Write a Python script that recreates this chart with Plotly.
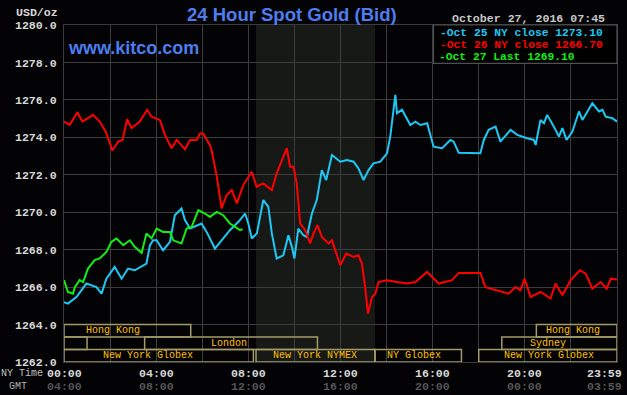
import plotly.graph_objects as go

# ---------------- data ----------------
oct25_t = [0, 0.17, 0.54, 0.97, 1.41, 1.63, 1.84, 2.2, 2.5, 2.78, 3.07, 3.58, 3.73, 3.87, 4.02, 4.3, 4.6,
           4.81, 5.1, 5.25, 5.47, 5.76, 5.97, 6.19, 6.55, 6.84, 7.2, 7.57, 7.86, 8.0, 8.15, 8.37, 8.65, 8.87,
           9.02, 9.23, 9.52, 9.74, 9.89, 10.0, 10.17, 10.39, 10.54, 10.76, 10.97, 11.19, 11.38, 11.63, 11.99,
           12.28, 12.57, 12.78, 13.0, 13.22, 13.43, 13.73, 14.02, 14.16, 14.23, 14.38, 14.45, 14.67, 15.03,
           15.25, 15.47, 15.76, 16.04, 16.41, 16.77, 16.91, 17.13, 18.07, 18.22, 18.43, 18.73, 18.94, 19.38,
           19.67, 20.1, 20.39, 20.47, 20.68, 20.83, 20.97, 21.26, 21.48, 21.63, 21.81, 22.06, 22.35, 22.5,
           22.93, 23.22, 23.37, 23.51, 23.8, 24]
oct25_v = [1265.2, 1265.12, 1265.47, 1266.19, 1266.0, 1265.65, 1266.45, 1267.08, 1266.45, 1266.99, 1266.9,
           1267.26, 1268.24, 1268.5, 1268.5, 1267.97, 1268.42, 1269.84, 1270.2, 1269.58, 1269.13, 1269.31,
           1269.4, 1268.95, 1268.06, 1268.5, 1269.04, 1269.49, 1269.93, 1269.4, 1268.6, 1268.87, 1270.65,
           1270.29, 1268.87, 1267.53, 1267.7, 1268.77, 1268.15, 1267.53, 1269.13, 1268.77, 1268.68, 1269.93,
           1270.65, 1272.25, 1271.72, 1273.06, 1272.7, 1272.79, 1272.7, 1272.34, 1271.72, 1272.25, 1272.61,
           1272.7, 1273.15, 1274.04, 1274.75, 1276.27, 1275.29, 1275.47, 1274.66, 1274.84, 1274.66, 1274.75,
           1273.5, 1273.42, 1273.86, 1273.77, 1273.18, 1273.15, 1273.86, 1274.4, 1274.57, 1273.77, 1274.4,
           1274.13, 1273.95, 1273.86, 1273.59, 1274.93, 1274.75, 1275.2, 1274.57, 1274.04, 1274.49, 1273.86,
           1274.3, 1275.38, 1274.93, 1275.82, 1275.38, 1275.47, 1275.1, 1275.02, 1274.84]

oct26_t = [0, 0.25, 0.58, 0.8, 1.26, 1.55, 1.81, 2.1, 2.35, 2.54, 2.74, 2.93, 3.29, 3.61, 3.8, 4.16, 4.38,
           4.67, 4.89, 5.25, 5.47, 5.76, 5.9, 6.04, 6.33, 6.41, 6.63, 6.84, 7.06, 7.28, 7.5, 7.78, 8.15, 8.36,
           8.65, 9.02, 9.23, 9.45, 9.67, 9.81, 9.96, 10.1, 10.17, 10.25, 10.47, 10.68, 10.83, 11.0, 11.19,
           11.48, 11.63, 11.77, 11.99, 12.25, 12.57, 12.78, 12.93, 13.07, 13.19, 13.37, 13.51, 13.65, 14.02,
           14.45, 14.89, 15.25, 15.76, 16.26, 16.84, 17.13, 18.07, 18.29, 18.8, 19.3, 19.6, 19.81, 19.99,
           20.25, 20.68, 21.12, 21.33, 21.63, 21.99, 22.39, 22.64, 22.93, 23.29, 23.55, 23.73, 24]
oct26_v = [1274.84, 1274.67, 1275.34, 1274.84, 1275.2, 1274.84, 1274.3, 1273.3, 1273.77, 1273.86, 1274.97,
           1274.49, 1274.84, 1275.47, 1275.1, 1274.93, 1274.13, 1273.42, 1273.86, 1273.36, 1273.86, 1273.86,
           1274.2, 1274.2, 1273.59, 1273.3, 1271.9, 1270.2, 1270.92, 1271.18, 1270.47, 1271.45, 1272.16,
           1271.36, 1271.54, 1271.18, 1272.07, 1272.7, 1273.42, 1272.43, 1272.43, 1271.54, 1270.29, 1269.4,
           1269.04, 1268.33, 1268.87, 1269.31, 1268.68, 1268.33, 1268.5, 1267.97, 1267.17, 1267.79, 1267.61,
           1267.7, 1267.26, 1266.0, 1264.58, 1265.47, 1265.65, 1266.27, 1266.37, 1266.27, 1266.19, 1266.27,
           1266.81, 1266.19, 1266.37, 1266.76, 1266.76, 1266.0, 1265.83, 1265.65, 1266.0, 1265.83, 1266.45,
           1265.47, 1265.74, 1265.39, 1266.19, 1265.56, 1266.37, 1266.9, 1266.72, 1265.92, 1266.27, 1265.92,
           1266.45, 1266.4]

oct27_t = [0, 0.17, 0.39, 0.47, 0.68, 0.83, 1.04, 1.33, 1.55, 1.84, 2.06, 2.28, 2.57, 2.86, 3.07, 3.37,
           3.58, 3.8, 4.02, 4.3, 4.6, 4.74, 5.1, 5.32, 5.54, 5.83, 6.12, 6.33, 6.63, 6.91, 7.2, 7.42, 7.64, 7.75]
oct27_v = [1266.37, 1265.74, 1265.65, 1266.0, 1266.37, 1266.27, 1266.99, 1267.44, 1267.53, 1267.88, 1268.42,
           1268.6, 1268.24, 1268.5, 1268.15, 1267.83, 1268.87, 1268.6, 1269.13, 1268.95, 1268.95, 1268.5,
           1268.33, 1269.13, 1269.22, 1270.11, 1269.93, 1269.75, 1270.02, 1269.84, 1269.4, 1269.22, 1269.04,
           1269.1]

series_names = ["Oct 25 NY close", "Oct 26 NY close", "Oct 27 Last"]
series_values = [1273.10, 1266.70, 1269.10]
series_colors = ["#1ec8f5", "#ff0000", "#11ee11"]

y_ticks = [1262, 1264, 1266, 1268, 1270, 1272, 1274, 1276, 1278, 1280]
ny_time_labels = ["00:00", "04:00", "08:00", "12:00", "16:00", "20:00", "23:59"]
gmt_time_labels = ["04:00", "08:00", "12:00", "16:00", "20:00", "00:00", "03:59"]
time_label_hours = [0, 4, 8, 12, 16, 20, 24]

nymex_open = [8.333, 13.5]

# sessions: label, start hour, end hour, row (0 = top), label centre hour
session_labels = ["Hong Kong", "Hong Kong", "", "London", "Sydney",
                  "New York Globex", "New York NYMEX", "NY Globex", "New York Globex"]
session_start = [0, 20.5, 0, 3.5, 19.0, 0, 8.333, 13.5, 18.0]
session_end = [5.5, 24, 1.0, 11.0, 24, 8.22, 13.5, 17.25, 24]
session_row = [0, 0, 1, 1, 1, 2, 2, 2, 2]
session_label_at = [2.13, 22.07, 0.5, 7.16, 21.0, 3.64, 10.9, 15.2, 21.03]

title_text = "24 Hour Spot Gold (Bid)"
site_text = "www.kitco.com"
date_text = "October 27, 2016 07:45"

# ---------------- figure ----------------
MONO = "Liberation Mono"
BG = "#030305"
GRID = "#3c3c3c"

fig = go.Figure()
for t, v, c, n in zip([oct25_t, oct26_t, oct27_t], [oct25_v, oct26_v, oct27_v], series_colors, series_names):
    fig.add_trace(go.Scatter(x=t, y=v, mode="lines", line=dict(color=c, width=2), name=n,
                             showlegend=False, hoverinfo="skip"))

shapes = []
# NYMEX shading
shapes.append(dict(type="rect", xref="x", yref="paper", x0=nymex_open[0], x1=nymex_open[1], y0=0, y1=1,
                   fillcolor="#171917", line=dict(width=0), layer="below"))

# session boxes
row_h = 2 / 3.0
for lab, s, e, r, la in zip(session_labels, session_start, session_end, session_row, session_label_at):
    top = 1264 - r * row_h
    bot = top - row_h
    shapes.append(dict(type="rect", xref="x", yref="y", x0=s, x1=e, y0=bot, y1=top,
                       line=dict(color="#a39b68", width=1.5), fillcolor="rgba(0,0,0,0)", layer="above"))

# legend box
shapes.append(dict(type="rect", xref="paper", yref="paper", x0=(433.5 - 64) / 553, x1=1, y0=1 - 38.3 / 337,
                   y1=1, fillcolor="#000000", line=dict(color="#505050", width=1.2), layer="above"))
fig.update_layout(shapes=shapes)

ann = []
for lab, s, e, r, la in zip(session_labels, session_start, session_end, session_row, session_label_at):
    if not lab:
        continue
    top = 1264 - r * row_h
    ann.append(dict(x=la, y=top - row_h / 2, xref="x", yref="y", text=lab, showarrow=False,
                    font=dict(family=MONO, size=10, color="#ffc000"), xanchor="center", yanchor="middle"))

# time labels
for h, ny, gmt in zip(time_label_hours, ny_time_labels, gmt_time_labels):
    anchor = "right" if h == 24 else "center"
    shift = 7 if h == 24 else 0
    ann.append(dict(x=h, y=0, xref="x", yref="paper", text=ny, showarrow=False, xanchor=anchor,
                    yanchor="middle", yshift=-11.5, xshift=shift,
                    font=dict(family=MONO, size=11.6, color="#d8d8d8", weight="bold")))
    ann.append(dict(x=h, y=0, xref="x", yref="paper", text=gmt, showarrow=False, xanchor=anchor,
                    yanchor="middle", yshift=-24.5, xshift=shift,
                    font=dict(family=MONO, size=11.6, color="#555555", weight="bold")))
ann.append(dict(x=0, y=0, xref="paper", yref="paper", text="NY Time", showarrow=False, xanchor="left",
                yanchor="middle", yshift=-11.5, xshift=-65,
                font=dict(family=MONO, size=10, color="#c0c0c0")))
ann.append(dict(x=0, y=0, xref="paper", yref="paper", text="GMT", showarrow=False, xanchor="left",
                yanchor="middle", yshift=-24.5, xshift=-57,
                font=dict(family=MONO, size=10, color="#b0b0b0")))

# top texts
ann.append(dict(x=0, y=1, xref="paper", yref="paper", text="USD/oz", showarrow=False, xanchor="right",
                yanchor="middle", yshift=13, xshift=-4,
                font=dict(family=MONO, size=11.6, color="#d8d8d8", weight="bold")))
ann.append(dict(x=(292 - 64) / 553, y=1, xref="paper", yref="paper", text=title_text, showarrow=False,
                xanchor="center", yanchor="middle", yshift=11,
                font=dict(family="Liberation Sans", size=18.5, color="#4d7def", weight="bold")))
ann.append(dict(x=(66 - 64) / 553, y=1, xref="paper", yref="paper", text=site_text, showarrow=False,
                xanchor="left", yanchor="middle", yshift=-22.5,
                font=dict(family="Liberation Sans", size=18, color="#4d7def", weight="bold")))
ann.append(dict(x=1, y=1, xref="paper", yref="paper", text=date_text, showarrow=False,
                xanchor="right", yanchor="middle", yshift=7, xshift=-10,
                font=dict(family=MONO, size=11.6, color="#c8c8c8", weight="bold")))

# legend text
legend_y = [32.6, 44.6, 56.6]
for n, v, c, ly in zip(series_names, series_values, series_colors, legend_y):
    ann.append(dict(x=(438.5 - 64) / 553, y=1 - (ly - 25) / 337, xref="paper", yref="paper",
                    text=f"-{n} {v:.2f}", showarrow=False, xanchor="left", yanchor="middle",
                    borderpad=0,
                    font=dict(family=MONO, size=11.3, color=c, weight="bold")))

fig.update_layout(
    annotations=ann,
    width=627, height=395,
    margin=dict(l=64, r=10, t=25, b=33, pad=0),
    paper_bgcolor=BG, plot_bgcolor=BG,
    showlegend=False,
    xaxis=dict(range=[0, 24], dtick=2, tick0=0, showgrid=True, gridcolor=GRID, gridwidth=1.2,
               showticklabels=False, zeroline=False, showline=True, linecolor=GRID, mirror=True,
               fixedrange=True),
    yaxis=dict(range=[1262, 1280], tickvals=y_ticks, ticktext=[f"{t:.1f}" for t in y_ticks],
               showgrid=True, gridcolor=GRID, gridwidth=1.2, zeroline=False, showline=True,
               linecolor=GRID, mirror=True, ticks="", ticklabelstandoff=4,
               tickfont=dict(family=MONO, size=11.6, color="#d8d8d8", weight="bold"), fixedrange=True),
)

fig.write_html("out.html", config={"displayModeBar": False},
               post_script="document.body.style.margin='0';document.body.style.background='#030305';")
